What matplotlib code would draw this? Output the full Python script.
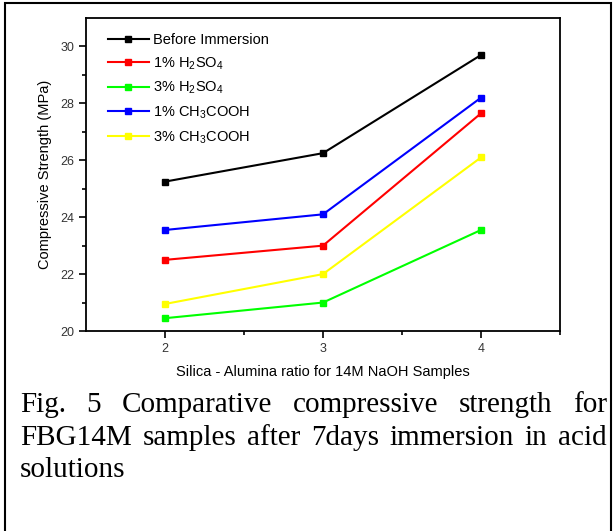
import numpy as np
from matplotlib import pyplot as plt
from matplotlib.patches import Rectangle

plt.rcParams['font.family'] = ['Liberation Sans', 'DejaVu Sans']
plt.rcParams['mathtext.fontset'] = 'custom'
plt.rcParams['mathtext.rm'] = 'Liberation Sans'

ratio = [2, 3, 4]
before = [25.25, 26.25, 29.7]
h2so4_1 = [22.5, 23.0, 27.65]
h2so4_3 = [20.45, 21.0, 23.55]
acetic_1 = [23.55, 24.1, 28.2]
acetic_3 = [20.95, 22.0, 26.1]

series = [
    (before, 'k', 'Before Immersion'),
    (h2so4_1, '#ff0000', r'1% H$_\mathregular{2}$SO$_\mathregular{4}$'),
    (h2so4_3, '#00ff00', r'3% H$_\mathregular{2}$SO$_\mathregular{4}$'),
    (acetic_1, '#0000ff', r'1% CH$_\mathregular{3}$COOH'),
    (acetic_3, '#ffff00', r'3% CH$_\mathregular{3}$COOH'),
]

caption = ["Fig. 5 Comparative compressive strength for",
           "FBG14M samples after 7days immersion in acid",
           "solutions"]

fig = plt.figure(figsize=(6.16, 5.31), dpi=100)
ax = fig.add_axes([86/616, 1-331/531, (560-86)/616, (331-18)/531])

for y, c, lab in series:
    ax.plot(ratio, y, '-s', color=c, lw=1.5, ms=5, label=lab)

ax.set_xlim(1.5, 4.5)
ax.set_ylim(20, 31)
ax.set_xticks([2, 3, 4])
ax.set_xticks([2.5, 3.5, 4.5], minor=True)
ax.set_yticks([20, 22, 24, 26, 28, 30])
ax.set_yticks([21, 23, 25, 27, 29], minor=True)
ax.tick_params(which='both', direction='out', labelsize=9, labelcolor='#333333', width=1.2)
ax.tick_params(which='major', length=5)
ax.tick_params(which='minor', length=3)
for s in ax.spines.values():
    s.set_linewidth(1.3)
ax.set_xlabel('Silica - Alumina ratio for 14M NaOH Samples', fontsize=10.5, labelpad=7)
ax.set_ylabel('Compressive Strength (MPa)', fontsize=10.5, labelpad=6)

ax.legend(loc='upper left', frameon=False, fontsize=10.5, handlelength=2.8,
          labelspacing=0.55, handletextpad=0.3, borderaxespad=0.3,
          bbox_to_anchor=(0.025, 0.985))

# caption, justified
fig.canvas.draw()
r = fig.canvas.get_renderer()
left, right = 20, 607
ys = [405, 438, 470]
fs = 21
for k, line in enumerate(caption):
    words = line.split()
    ypix = 531 - ys[k]
    if k == len(caption) - 1:
        fig.text(left/616, ypix/531, line, fontsize=fs, family='Liberation Serif', va='center')
        continue
    ts = [fig.text(0, ypix/531, w, fontsize=fs, family='Liberation Serif', va='center') for w in words]
    widths = [t.get_window_extent(r).width for t in ts]
    gap = (right - left - sum(widths)) / (len(words) - 1)
    x = left
    for t, w in zip(ts, widths):
        t.set_x(x/616)
        x += w + gap

fig.patches.append(Rectangle((5/616, -0.01), 606/616, 1-3/531+0.01, transform=fig.transFigure,
                             fill=False, lw=1.5, ec='k'))

plt.savefig('out.png', dpi=100)
